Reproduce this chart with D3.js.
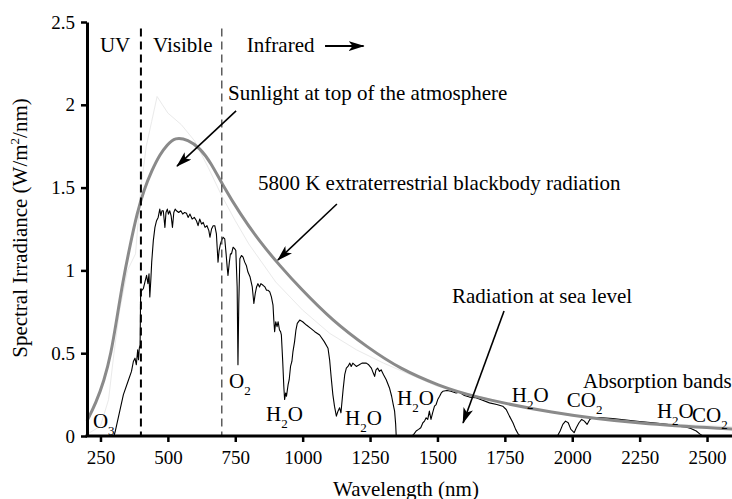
<!DOCTYPE html>
<html>
<head>
<meta charset="utf-8">
<script src="https://cdn.jsdelivr.net/npm/d3@7"></script>
<style>
  html, body { margin: 0; padding: 0; background: #fff; }
  svg { display: block; }
</style>
</head>
<body>
<svg id="chart" width="732" height="499"></svg>
<script>
// values (nm, W/m^2/nm)
var blackbodyWavelength = [200, 233, 263, 289, 311, 334, 360, 386, 411, 441, 471, 497, 526, 575, 619, 660, 701,
  768, 842, 916, 990, 1112, 1239, 1361, 1509, 1621, 1917, 2251, 2600];
var blackbodyIrradiance = [0.091, 0.199, 0.332, 0.495, 0.713, 0.942, 1.153, 1.347, 1.486, 1.606, 1.703, 1.757, 1.805,
  1.790, 1.739, 1.649, 1.522, 1.341, 1.171, 1.027, 0.894, 0.694, 0.537, 0.405, 0.302, 0.242, 0.139, 0.072, 0.042];

var topWavelength = [200, 250, 280, 300, 320, 350, 380, 400, 420, 440, 460, 480, 500, 550, 600, 650, 700, 750,
  800, 900, 1000, 1100, 1200, 1300, 1400, 1500, 1600, 1800, 2000, 2200, 2400, 2600];
var topIrradiance = [0.01, 0.06, 0.22, 0.5, 0.75, 1.0, 1.1, 1.5, 1.75, 1.9, 2.05, 2.0, 1.95, 1.88, 1.78, 1.62, 1.45, 1.3,
  1.16, 0.93, 0.76, 0.62, 0.52, 0.44, 0.37, 0.30, 0.26, 0.18, 0.12, 0.09, 0.07, 0.055];

var seaWavelength = [300, 305, 320, 335, 350, 365, 372, 378, 383, 388, 391, 394, 397, 399, 404, 409, 415, 421, 426,
  430, 433, 437, 440, 446, 452, 458, 464, 470, 474, 478, 483, 486, 489, 493, 498, 502, 507, 512, 517, 522, 527,
  532, 540, 548, 555, 562, 569, 575, 582, 590, 598, 606, 612, 618, 625, 631, 638, 645, 652, 656, 662, 668, 674,
  680, 686, 690, 695, 699, 705, 711, 716, 720, 723, 728, 732, 736, 742, 748, 752, 757, 760, 763, 767, 773, 779,
  785, 791, 797, 805, 813, 819, 824, 829, 834, 840, 845, 853, 860, 866, 872, 878, 884, 890, 893, 896, 900, 905,
  909, 914, 918, 921, 926, 930, 933, 937, 940, 946, 950, 955, 960, 964, 970, 975, 980, 989, 1000, 1014, 1030,
  1045, 1063, 1080, 1094, 1100, 1106, 1112, 1118, 1125, 1131, 1137, 1142, 1150, 1156, 1162, 1168, 1175, 1180,
  1186, 1193, 1199, 1210, 1220, 1236, 1245, 1255, 1262, 1267, 1272, 1278, 1285, 1291, 1300, 1310, 1322, 1330,
  1336, 1341, 1345, 1347, 1405, 1412, 1421, 1430, 1438, 1446, 1452, 1458, 1464, 1470, 1476, 1482, 1489, 1495,
  1501, 1508, 1514, 1520, 1535, 1550, 1569, 1580, 1600, 1619, 1640, 1660, 1693, 1720, 1742, 1755, 1767, 1780,
  1790, 1800, 1810, 1945, 1955, 1965, 1975, 1985, 1995, 2007, 2015, 2025, 2035, 2045, 2055, 2065, 2075, 2100,
  2150, 2200, 2250, 2300, 2350, 2380, 2400, 2420, 2440, 2460, 2475, 2485];
var seaIrradiance = [0, 0.03, 0.14, 0.25, 0.32, 0.39, 0.45, 0.47, 0.43, 0.52, 0.46, 0.53, 0.55, 0.87, 0.88, 0.89,
  0.93, 0.97, 0.92, 0.98, 0.84, 0.95, 1.05, 1.18, 1.26, 1.30, 1.32, 1.37, 1.33, 1.36, 1.36, 1.31, 1.26, 1.35,
  1.37, 1.34, 1.36, 1.33, 1.26, 1.35, 1.37, 1.36, 1.35, 1.36, 1.34, 1.35, 1.345, 1.32, 1.34, 1.31, 1.32, 1.30,
  1.27, 1.31, 1.28, 1.29, 1.26, 1.27, 1.24, 1.20, 1.25, 1.27, 1.27, 1.22, 1.05, 1.12, 1.16, 1.18, 1.20, 1.19,
  1.10, 1.02, 0.97, 1.05, 1.10, 1.10, 1.14, 1.13, 1.12, 0.90, 0.43, 0.80, 1.07, 1.09, 1.08, 1.05, 1.03, 0.99,
  0.96, 0.90, 0.80, 0.86, 0.90, 0.92, 0.90, 0.92, 0.91, 0.90, 0.88, 0.88, 0.87, 0.84, 0.79, 0.70, 0.63, 0.69,
  0.66, 0.69, 0.64, 0.63, 0.61, 0.45, 0.30, 0.22, 0.26, 0.24, 0.31, 0.34, 0.42, 0.45, 0.51, 0.57, 0.64, 0.68,
  0.70, 0.69, 0.67, 0.65, 0.63, 0.61, 0.57, 0.53, 0.46, 0.35, 0.25, 0.18, 0.12, 0.15, 0.17, 0.14, 0.28, 0.37,
  0.41, 0.42, 0.44, 0.42, 0.44, 0.43, 0.42, 0.43, 0.44, 0.44, 0.43, 0.41, 0.38, 0.36, 0.40, 0.41, 0.39, 0.40,
  0.37, 0.34, 0.29, 0.24, 0.19, 0.15, 0.07, 0, 0, 0.01, 0.03, 0.04, 0.05, 0.08, 0.09, 0.11, 0.10, 0.15, 0.10,
  0.14, 0.18, 0.19, 0.22, 0.24, 0.26, 0.27, 0.275, 0.27, 0.26, 0.265, 0.245, 0.235, 0.232, 0.22, 0.20, 0.19,
  0.18, 0.16, 0.12, 0.08, 0.04, 0.01, 0, 0, 0.03, 0.07, 0.09, 0.08, 0.04, 0.02, 0.05, 0.08, 0.10, 0.09, 0.07,
  0.10, 0.11, 0.112, 0.105, 0.097, 0.088, 0.08, 0.07, 0.064, 0.058, 0.055, 0.045, 0.03, 0.01, 0];

var regionEdges = [400, 700];
var xTicks = [250, 500, 750, 1000, 1250, 1500, 1750, 2000, 2250, 2500];
var yTicks = [0, 0.5, 1, 1.5, 2, 2.5];
var yTickLabels = ["0", "0.5", "1", "1.5", "2", "2.5"];

var FONT = "'Liberation Serif', Tinos, 'Times New Roman', 'DejaVu Serif', serif";

var svg = d3.select("#chart").attr("font-family", FONT);

var x = d3.scaleLinear().domain([200, 2600]).range([87, 734]);
var y = d3.scaleLinear().domain([0, 2.5]).range([436, 22]);

svg.append("rect").attr("width", 732).attr("height", 499).attr("fill", "#fff");

svg.append("defs").append("marker")
    .attr("id", "head")
    .attr("markerUnits", "userSpaceOnUse")
    .attr("viewBox", "0 0 16 10")
    .attr("markerWidth", 16)
    .attr("markerHeight", 10)
    .attr("refX", 15)
    .attr("refY", 5)
    .attr("orient", "auto")
  .append("path")
    .attr("d", "M0,0L16,5L0,10L4,5Z")
    .attr("fill", "#000");

function pairs(xs, ys) {
  return d3.zip(xs, ys);
}

var line = d3.line()
    .x(function(d) { return x(d[0]); })
    .y(function(d) { return y(d[1]); });

// faint top-of-atmosphere spectrum
svg.append("path")
    .datum(pairs(topWavelength, topIrradiance))
    .attr("fill", "none")
    .attr("stroke", "#eaeaea")
    .attr("stroke-width", 1)
    .attr("d", line.curve(d3.curveLinear));

// sea level spectrum
svg.append("path")
    .datum(pairs(seaWavelength, seaIrradiance))
    .attr("fill", "none")
    .attr("stroke", "#000")
    .attr("stroke-width", 1.1)
    .attr("stroke-linejoin", "round")
    .attr("d", line.curve(d3.curveLinear));

// 5800 K blackbody, smoothed through the read points
svg.append("path")
    .datum(pairs(blackbodyWavelength, blackbodyIrradiance))
    .attr("fill", "none")
    .attr("stroke", "#8a8a8a")
    .attr("stroke-width", 3)
    .attr("d", line.curve(d3.curveBasis));

// UV / visible / infrared dividers
svg.selectAll(".edge")
    .data(regionEdges)
  .enter().append("line")
    .attr("class", "edge")
    .attr("x1", function(d) { return x(d); })
    .attr("x2", function(d) { return x(d); })
    .attr("y1", y(2.46))
    .attr("y2", y(0))
    .attr("stroke", function(d, i) { return i == 0 ? "#000" : "#444"; })
    .attr("stroke-width", function(d, i) { return i == 0 ? 2 : 1.3; })
    .attr("stroke-dasharray", "8,5");

// axes
var xAxis = svg.append("g")
    .attr("transform", "translate(0," + y(0) + ")")
    .call(d3.axisBottom(x).tickValues(xTicks).tickFormat(d3.format("d"))
      .tickSize(6).tickSizeOuter(0).tickPadding(9));
var yAxis = svg.append("g")
    .attr("transform", "translate(" + x(200) + ",0)")
    .call(d3.axisLeft(y).tickValues(yTicks).tickSize(6).tickSizeOuter(0).tickPadding(6)
      .tickFormat(function(d, i) { return yTickLabels[i]; }));

[xAxis, yAxis].forEach(function(g) {
  g.attr("font-family", FONT).attr("font-size", 19);
  g.select(".domain").attr("stroke", "#000").attr("stroke-width", 3);
  g.selectAll(".tick line").attr("stroke", "#000").attr("stroke-width", 2.5);
  g.selectAll(".tick text").attr("fill", "#000");
});
xAxis.select(".domain").attr("d", "M" + (x(200) - 1.5) + ",0H" + x(2600));

svg.append("text")
    .attr("x", 406)
    .attr("y", 496)
    .attr("text-anchor", "middle")
    .attr("font-size", 21)
    .text("Wavelength (nm)");

var yTitle = svg.append("text")
    .attr("transform", "translate(27,228) rotate(-90)")
    .attr("text-anchor", "middle")
    .attr("font-size", 21);
yTitle.append("tspan").text("Spectral Irradiance (W/m");
yTitle.append("tspan").attr("dy", -8).attr("font-size", 13).text("2");
yTitle.append("tspan").attr("dy", 8).text("/nm)");

// annotations, placed in data units
function label(text, lam, val) {
  return svg.append("text")
      .attr("x", x(lam))
      .attr("y", y(val))
      .attr("font-size", 21)
      .text(text);
}

function arrow(l1, v1, l2, v2, width) {
  svg.append("line")
      .attr("x1", x(l1)).attr("y1", y(v1))
      .attr("x2", x(l2)).attr("y2", y(v2))
      .attr("stroke", "#000")
      .attr("stroke-width", width || 1.6)
      .attr("marker-end", "url(#head)");
}

function chem(parts, lam, val) {
  var t = svg.append("text")
      .attr("x", x(lam))
      .attr("y", y(val))
      .attr("font-size", 21);
  parts.forEach(function(p, i) {
    var isSub = i % 2 == 1;
    t.append("tspan")
        .attr("dy", isSub ? 7 : (i > 0 ? -7 : 0))
        .attr("font-size", isSub ? 13 : 21)
        .text(p);
  });
}

label("UV", 248, 2.319);
label("Visible", 445, 2.319);
label("Infrared", 793, 2.319);
arrow(1083, 2.355, 1226, 2.355, 2);

label("Sunlight at top of the atmosphere", 723, 2.029);
arrow(753, 1.963, 534, 1.630);

label("5800 K extraterrestrial blackbody radiation", 834, 1.486);
arrow(1127, 1.401, 908, 1.063);

label("Radiation at sea level", 1554, 0.803);
arrow(1747, 0.755, 1595, 0.079);

label("Absorption bands", 2040, 0.290);

chem(["O", "3"], 222, 0.048);
chem(["O", "2"], 727, 0.29);
chem(["H", "2", "O"], 864, 0.091);
chem(["H", "2", "O"], 1157, 0.066);
chem(["H", "2", "O"], 1350, 0.187);
chem(["H", "2", "O"], 1776, 0.205);
chem(["CO", "2"], 1980, 0.175);
chem(["H", "2", "O"], 2314, 0.109);
chem(["CO", "2"], 2444, 0.085);
</script>
</body>
</html>
